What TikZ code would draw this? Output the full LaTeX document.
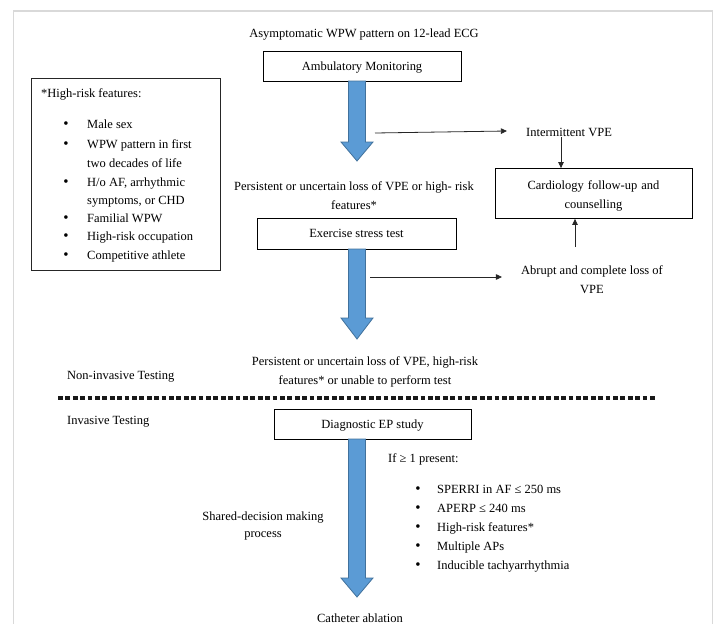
\documentclass[tikz,border=0pt]{standalone}
\usepackage{fontspec}
\setmainfont{Liberation Serif}
\usetikzlibrary{arrows.meta,calc}
\definecolor{arrowblue}{HTML}{5B9BD5}
\definecolor{arrowedge}{HTML}{41719C}
\definecolor{framegray}{HTML}{D9D9D9}
\newcommand{\wpwdownarrow}[4]{%
  \draw[bluearrow] ({#1-8.5},#2) -- ({#1+8.5},#2) -- ({#1+8.5},#3) -- ({#1+16},#3)
    -- (#1,#4) -- ({#1-16},#3) -- ({#1-8.5},#3) -- cycle;}
\tikzset{
  every node/.style={font=\fontsize{12.5}{19}\selectfont, inner sep=2pt},
  flowbox/.style={draw=black, line width=0.8pt, align=center},
  onebox/.style={flowbox, text height=8.6pt, text depth=0pt},
  ctext/.style={align=center},
  ltext/.style={anchor=base west, inner sep=0},
  bul/.style={anchor=base, inner sep=0, font=\fontsize{15}{19}\selectfont},
  thinarrow/.style={draw=black!85, line width=0.8pt, -{Triangle[length=6pt,width=5.5pt]}},
  bluearrow/.style={fill=arrowblue, draw=arrowedge, line width=0.8pt},
  divider/.style={line width=4pt, dash pattern=on 4.8pt off 2.6pt, black!90},
}
\begin{document}
\begin{tikzpicture}[x=1pt,y=-1pt]
\useasboundingbox (0,0) rectangle (716,624);
% outer frame
\draw[framegray, line width=1.5pt] (13.5,624) -- (13.5,11) -- (712.5,11) -- (712.5,624);

% title and top flow
\node[anchor=base, inner sep=0] (title) at (364,37) {Asymptomatic WPW pattern on 12-lead ECG};
\node[onebox, minimum width=198, minimum height=30] (amb) at (362,66) {Ambulatory Monitoring};
\wpwdownarrow{357}{81}{142}{161}

\node (ivpe) at (569,132) {Intermittent VPE};
\coordinate (c1) at (375,133);
\draw[thinarrow] (c1) -- ([xshift=-17pt,yshift=1pt]ivpe.west);

\node[flowbox, minimum width=197, minimum height=50, text width=190, text depth=17.5pt] (card) at (593.5,193.5) {Cardiology follow-up and\\counselling};
\draw[thinarrow] ($(ivpe.south)+(-8,-1)$) -- (card.north -| {$(ivpe.south)+(-8,0)$});

\node[ctext] (pers1) at (354,196) {Persistent or uncertain loss of VPE or high- risk\\features*};
\node[onebox, minimum width=199, minimum height=31] (ex) at (356.5,233.5) {Exercise stress test};
\wpwdownarrow{357}{249}{318}{339}

\node[ctext] (abrupt) at (592,280) {Abrupt and complete loss of\\VPE};
\coordinate (c2) at (370,277);
\draw[thinarrow] (c2) -- ([xshift=-17pt,yshift=3pt]abrupt.west);
\coordinate (abtop) at (575,247);
\draw[thinarrow] (abtop) -- (card.south -| abtop);

\node[ctext] (pers2) at (365,372) {Persistent or uncertain loss of VPE, high-risk\\features* or unable to perform test};
\node[ltext] (noninv) at (67,379) {Non-invasive Testing};

% divider
\coordinate (dl) at (58,398);
\coordinate (dr) at (657,398);
\draw[divider] (dl) -- (dr);

\node[ltext] (inv) at (67,424) {Invasive Testing};
\node[onebox, minimum width=197, minimum height=30] (ep) at (372.5,424) {Diagnostic EP study};
\wpwdownarrow{357}{439}{578}{597}

\node[ltext] (ifp) at (388,462) {If ≥ 1 present:};
\node[bul] (b1) at (418,493) {•}; \node[ltext] (i1) at (437,493) {SPERRI in AF ≤ 250 ms};
\node[bul] (b2) at (418,512) {•}; \node[ltext] (i2) at (437,512) {APERP ≤ 240 ms};
\node[bul] (b3) at (418,531) {•}; \node[ltext] (i3) at (437,531) {High-risk features*};
\node[bul] (b4) at (418,550) {•}; \node[ltext] (i4) at (437,550) {Multiple APs};
\node[bul] (b5) at (418,569) {•}; \node[ltext] (i5) at (437,569) {Inducible tachyarrhythmia};

\node[ctext, font=\fontsize{12.5}{17}\selectfont] (shared) at (263,526) {Shared-decision making\\process};
\node (cath) at (360,618) {Catheter ablation};

% high-risk features box
\node[draw=black!85, line width=0.8pt, minimum width=189, minimum height=192, anchor=north west, inner sep=0] (hrbox) at (31,78) {};
\node[ltext] (hrt) at (41,97) {*High-risk features:};
\node[bul] (h1) at (66,128) {•}; \node[ltext] (t1) at (87,128) {Male sex};
\node[bul] (h2) at (66,148) {•}; \node[ltext] (t2) at (87,148) {WPW pattern in first};
\node[ltext] (t2b) at (87,167) {two decades of life};
\node[bul] (h3) at (66,186) {•}; \node[ltext] (t3) at (87,186) {H/o AF, arrhythmic};
\node[ltext] (t3b) at (87,204) {symptoms, or CHD};
\node[bul] (h4) at (66,222) {•}; \node[ltext] (t4) at (87,222) {Familial WPW};
\node[bul] (h5) at (66,240) {•}; \node[ltext] (t5) at (87,240) {High-risk occupation};
\node[bul] (h6) at (66,259) {•}; \node[ltext] (t6) at (87,259) {Competitive athlete};
\end{tikzpicture}
\end{document}
